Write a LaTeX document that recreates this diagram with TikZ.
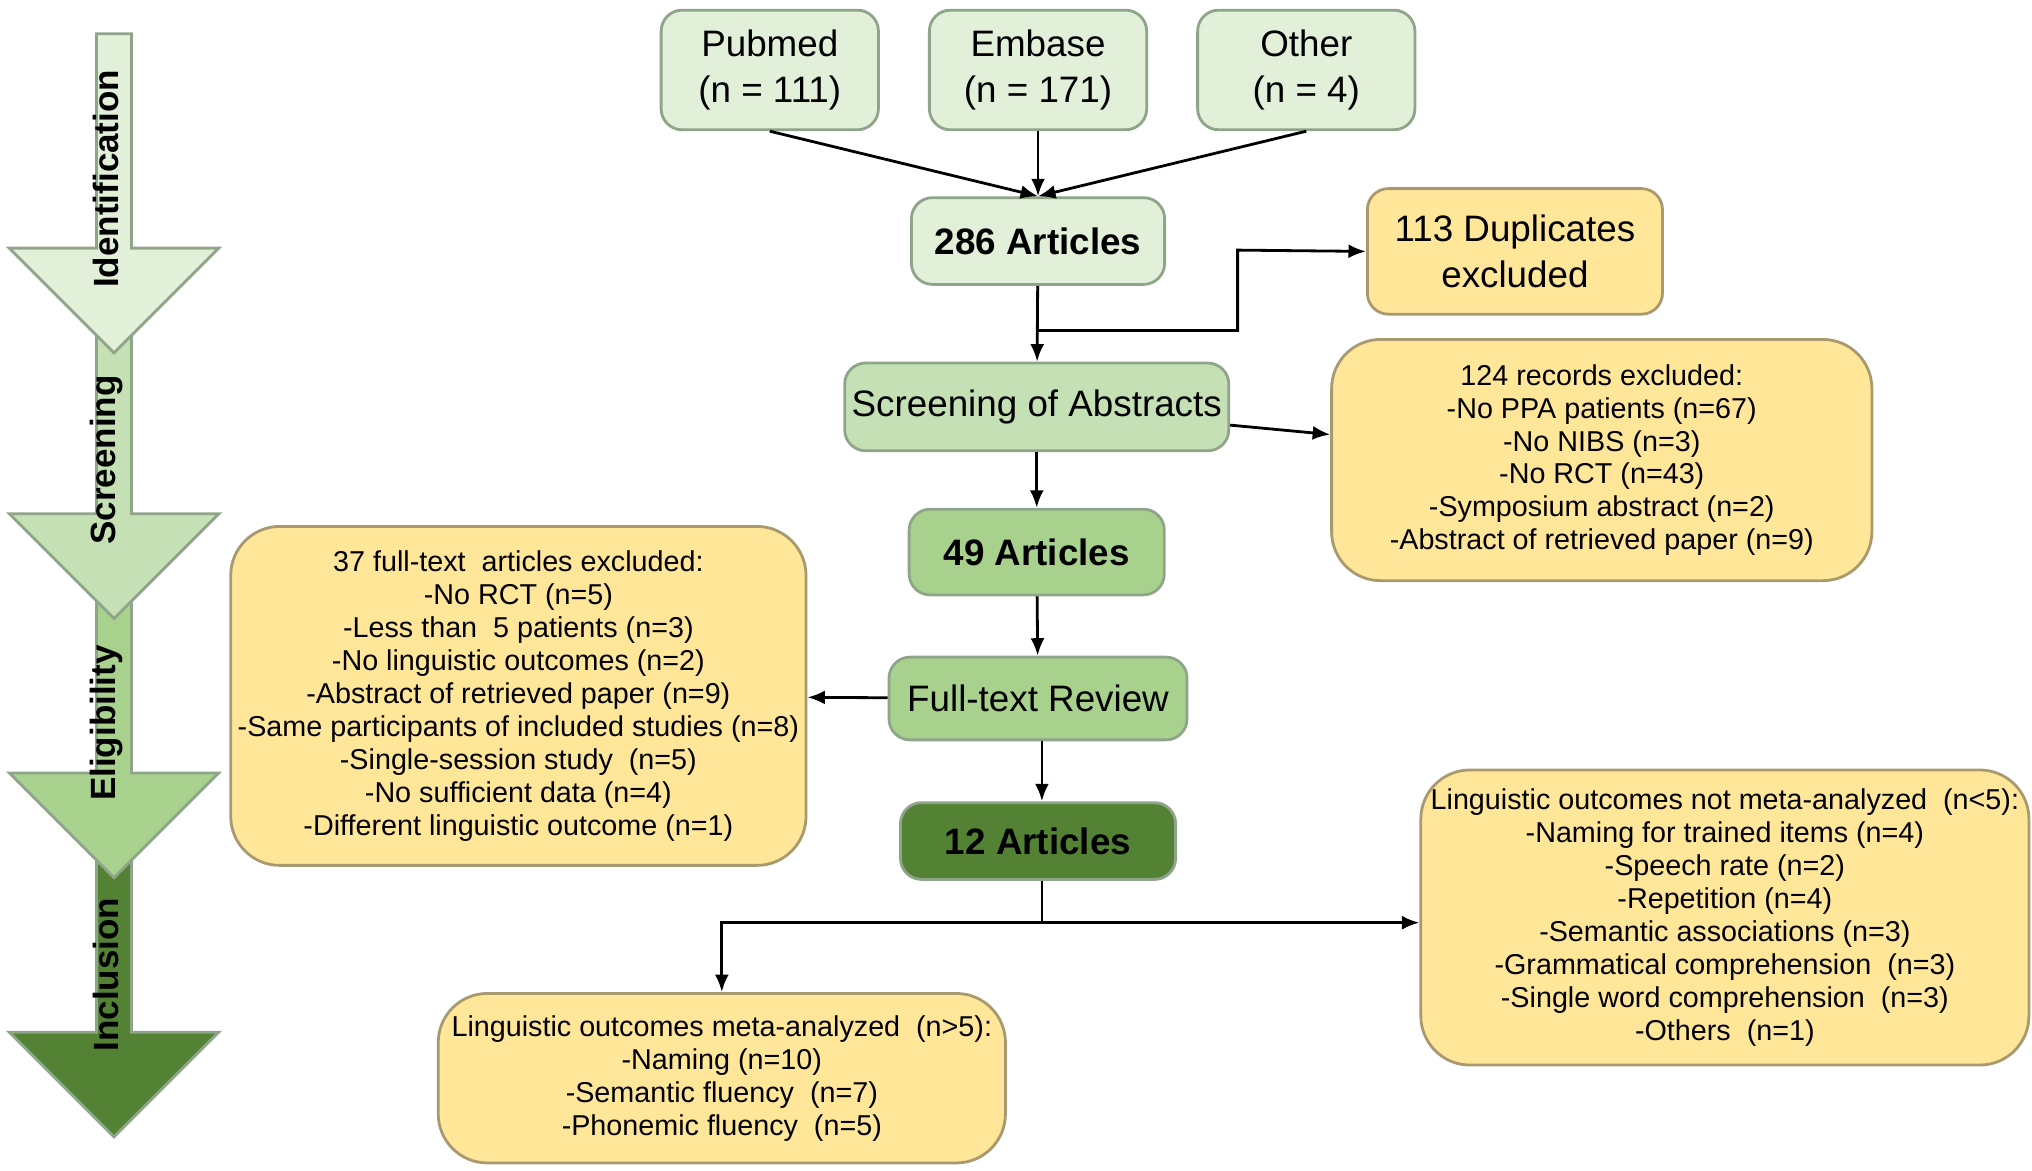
\documentclass[tikz,border=0pt]{standalone}
\usepackage{fontspec}
\setmainfont{Liberation Sans}
\usetikzlibrary{shapes.arrows,arrows.meta}
\definecolor{idgreen}{HTML}{E2EFD9}
\definecolor{scgreen}{HTML}{C5E0B4}
\definecolor{elgreen}{HTML}{A9D18E}
\definecolor{ingreen}{HTML}{548235}
\definecolor{exyellow}{HTML}{FFE699}
\definecolor{boxline}{HTML}{8FA58A}
\definecolor{exline}{HTML}{A89A6E}
\begin{document}
\begin{tikzpicture}
  [x=0.013cm, y=-0.013cm,
  box/.style={rectangle, rounded corners=6pt, draw=boxline, thick, align=center, inner sep=2pt,
    font=\fontsize{10.5}{13}\selectfont},
  excl/.style={rectangle, rounded corners=14pt, draw=exline, thick, fill=exyellow, align=center,
    inner sep=2pt, font=\fontsize{8.2}{9.4}\selectfont},
  line/.style={draw, -{Latex[length=5pt,width=4pt]}, thick},
  stage/.style={single arrow, draw=boxline, thick, shape border rotate=270, minimum width=2.1cm,
    single arrow head extend=0.07cm, minimum height=3.2cm, inner sep=0pt, anchor=north}]
  \useasboundingbox (0,0) rectangle (1568,903);
  % stage arrows
  \node [stage, fill=ingreen] (inc) at (88,630) {};
  \node [stage, fill=elgreen] (eli) at (88,430) {};
  \node [stage, fill=scgreen] (scr) at (88,230) {};
  \node [stage, fill=idgreen] (ide) at (88,25) {};
  \node [rotate=90, font=\bfseries\fontsize{10}{12}\selectfont] at (82,138) {Identification};
  \node [rotate=90, font=\bfseries\fontsize{10}{12}\selectfont] at (82,355) {Screening};
  \node [rotate=90, font=\bfseries\fontsize{10}{12}\selectfont] at (82,558) {Eligibility};
  \node [rotate=90, font=\bfseries\fontsize{10}{12}\selectfont] at (82,752) {Inclusion};
  % nodes
  \node [box, fill=idgreen, minimum width=2.18cm, minimum height=1.2cm] (pubmed) at (594,54) {Pubmed\\(n = 111)};
  \node [box, fill=idgreen, minimum width=2.18cm, minimum height=1.2cm] (embase) at (801,54) {Embase\\(n = 171)};
  \node [box, fill=idgreen, minimum width=2.18cm, minimum height=1.2cm] (other) at (1008,54) {Other\\(n = 4)};
  \node [box, fill=idgreen, minimum width=2.54cm, minimum height=0.87cm, font=\bfseries\fontsize{10.5}{13}\selectfont] (art286) at (801,186) {286 Articles};
  \node [excl, rounded corners=6pt, minimum width=2.96cm, minimum height=1.26cm, font=\fontsize{10.5}{13}\selectfont] (dupl) at (1169,194) {113 Duplicates\\excluded};
  \node [box, fill=scgreen, minimum width=3.7cm, minimum height=0.88cm] (abstr) at (800,314) {Screening of Abstracts};
  \node [excl, minimum width=5.42cm, minimum height=2.42cm] (rec124) at (1236,355)
    {124 records excluded:\\-No PPA patients (n=67)\\-No NIBS (n=3)\\-No RCT (n=43)\\-Symposium abstract (n=2)\\-Abstract of retrieved paper (n=9)};
  \node [box, fill=elgreen, minimum width=2.56cm, minimum height=0.86cm, font=\bfseries\fontsize{10.5}{13}\selectfont] (art49) at (800,426) {49 Articles};
  \node [excl, minimum width=5.47cm, minimum height=3.4cm] (full37) at (400,537)
    {37 full-text\ \ articles excluded:\\-No RCT (n=5)\\-Less than\ \ 5 patients (n=3)\\-No linguistic outcomes (n=2)\\-Abstract of retrieved paper (n=9)\\-Same participants of included studies (n=8)\\-Single-session study\ \ (n=5)\\-No sufficient data (n=4)\\-Different linguistic outcome (n=1)};
  \node [box, fill=elgreen, minimum width=2.99cm, minimum height=0.83cm] (review) at (801,539) {Full-text Review};
  \node [box, fill=ingreen, minimum width=2.76cm, minimum height=0.77cm, font=\bfseries\fontsize{10.5}{13}\selectfont] (art12) at (801,649) {12 Articles};
  \node [excl, minimum width=6.1cm, minimum height=2.96cm] (notmeta) at (1331,708)
    {Linguistic outcomes not meta-analyzed\ \ (n<5):\\-Naming for trained items (n=4)\\-Speech rate (n=2)\\-Repetition (n=4)\\-Semantic associations (n=3)\\-Grammatical comprehension\ \ (n=3)\\-Single word comprehension\ \ (n=3)\\-Others\ \ (n=1)};
  \node [excl, minimum width=5.69cm, minimum height=1.7cm] (meta) at (557,832)
    {Linguistic outcomes meta-analyzed\ \ (n>5):\\-Naming (n=10)\\-Semantic fluency\ \ (n=7)\\-Phonemic fluency\ \ (n=5)};
  \coordinate (split) at (801,255);
  \coordinate (fork) at (804,712);
  % edges
  \path [line] (pubmed.south) -- (art286.north);
  \path [line] (embase) -- (art286);
  \path [line] (other.south) -- (art286.north);
  \path [line] (art286) -- (abstr);
  \path [line] (split) -| (955,193) -- (dupl.west);
  \path [line] (abstr) -- (rec124);
  \path [line] (abstr) -- (art49);
  \path [line] (art49) -- (review);
  \path [line] (review) -- (full37);
  \path [line] (review.south -| fork) -- (art12.north -| fork);
  \draw [thick] (art12.south -| fork) -- (fork);
  \path [line] (fork) -- (notmeta.west |- fork);
  \path [line] (fork) -| (meta.north);
\end{tikzpicture}
\end{document}
